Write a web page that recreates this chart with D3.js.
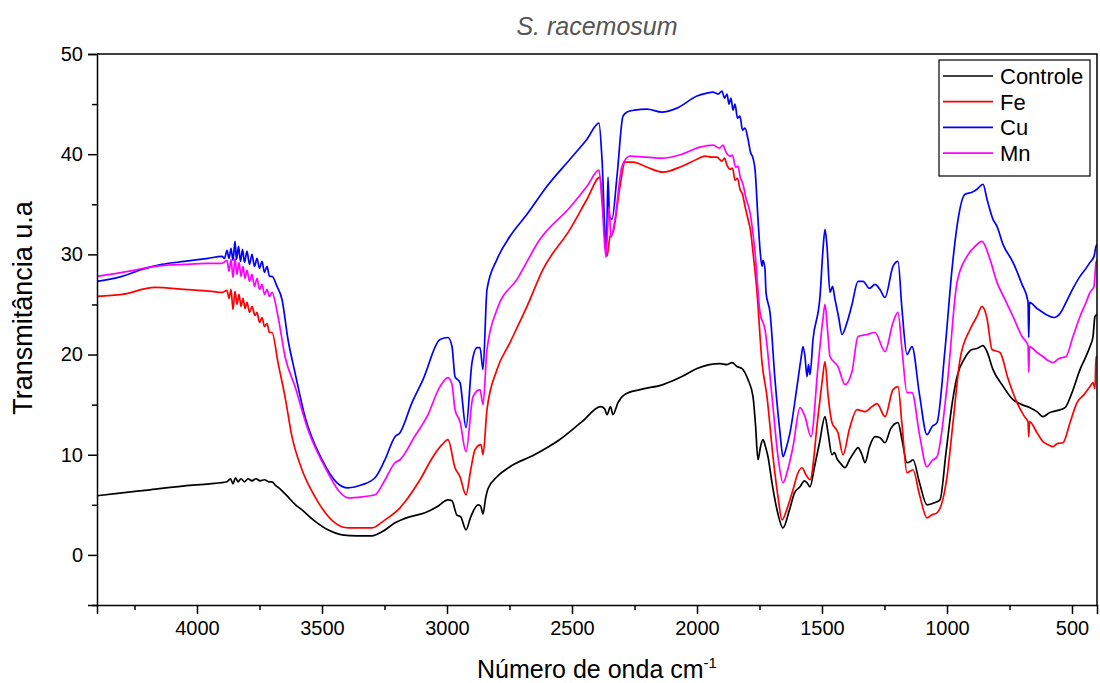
<!DOCTYPE html>
<html>
<head>
<meta charset="utf-8">
<script src="https://cdnjs.cloudflare.com/ajax/libs/d3/7.8.5/d3.min.js"></script>
<style>
  body { margin: 0; background: #fff; }
  svg { font-family: "Liberation Sans", Arial, sans-serif; }
</style>
</head>
<body>
<div id="chart"></div>
<script>
// chart data: [wavenumber, transmittance]
const seriesNames = ["Controle", "Fe", "Cu", "Mn"];
const seriesColors = ["#000000", "#ff0000", "#0000ff", "#ff00ff"];

const xTicks = [4000, 3500, 3000, 2500, 2000, 1500, 1000, 500];
const xMinorTicks = [4250, 3750, 3250, 2750, 2250, 1750, 1250, 750];
const yTicks = [0, 10, 20, 30, 40, 50];
const yMinorTicks = [-5, 5, 15, 25, 35, 45];

const controle = [
  [4400, 5.9], [4300, 6.2], [4188, 6.5], [4050, 6.9], [3950, 7.1], [3880, 7.3],
  [3866, 7.6], [3856, 7.1], [3846, 7.7], [3836, 7.3], [3824, 7.6], [3810, 7.3],
  [3796, 7.6], [3780, 7.4], [3764, 7.6], [3748, 7.4], [3730, 7.5], [3712, 7.3],
  [3700, 7.3], [3688, 7.0], [3664, 6.5], [3636, 5.8], [3610, 5.1], [3580, 4.5],
  [3530, 3.4], [3476, 2.5], [3420, 2.0], [3360, 1.9], [3300, 1.9], [3260, 2.3],
  [3208, 3.2], [3150, 3.8], [3088, 4.2], [3040, 4.8], [2996, 5.5], [2980, 5.4],
  [2961, 4.0], [2945, 3.8], [2924, 2.5], [2905, 3.8], [2876, 5.0], [2866, 4.9],
  [2856, 4.1], [2846, 5.6], [2836, 6.6], [2800, 7.8], [2748, 8.8], [2650, 10.0],
  [2550, 11.5], [2460, 13.3], [2385, 14.8], [2370, 14.6], [2360, 14.0],
  [2346, 14.8], [2336, 14.0], [2316, 15.2], [2290, 16.0], [2228, 16.5],
  [2136, 17.0], [2060, 17.8], [2000, 18.6], [1950, 19.0], [1908, 19.1],
  [1880, 19.0], [1860, 19.2], [1840, 18.8], [1820, 18.6], [1796, 17.5],
  [1776, 15.8], [1766, 13.0], [1756, 9.5], [1746, 10.8], [1736, 11.5],
  [1726, 10.8], [1716, 9.8], [1700, 7.2], [1680, 4.5], [1656, 2.7],
  [1630, 4.5], [1610, 6.2], [1588, 6.8], [1570, 7.4], [1560, 7.2], [1548, 6.8],
  [1530, 8.8], [1510, 11.2], [1488, 13.8], [1476, 12.2], [1460, 10.0],
  [1450, 10.2], [1440, 9.6], [1428, 9.2], [1408, 8.7], [1390, 9.5],
  [1370, 10.3], [1356, 10.7], [1340, 10.0], [1328, 9.2], [1310, 10.8],
  [1288, 11.8], [1268, 11.7], [1248, 11.2], [1225, 12.6], [1196, 13.2],
  [1180, 11.5], [1160, 9.2], [1148, 9.3], [1136, 9.5], [1110, 7.2],
  [1080, 5.0], [1050, 5.2], [1028, 5.5], [1004, 10.2], [980, 15.0],
  [960, 17.8], [930, 19.6], [900, 20.5], [880, 20.6], [856, 20.9], [840, 20.3],
  [816, 18.5], [780, 17.0], [736, 15.5], [700, 15.0], [668, 14.7], [640, 14.3],
  [616, 13.8], [590, 14.2], [560, 14.4], [528, 14.7], [500, 16.2], [468, 18.5],
  [448, 19.6], [428, 20.8], [416, 21.8], [408, 23.8], [400, 24.0]
];

const fe = [
  [4400, 25.8], [4300, 26.0], [4168, 26.7], [4050, 26.5], [3940, 26.3], [3900, 26.2],
  [3880, 26.4], [3872, 25.6], [3864, 26.5], [3856, 24.5], [3848, 26.3], [3840, 25.0],
  [3832, 26.0], [3824, 24.8], [3816, 25.6], [3808, 24.6], [3800, 25.2], [3790, 24.2],
  [3780, 24.8], [3768, 23.9], [3760, 24.2], [3750, 23.2], [3740, 23.7], [3730, 22.8],
  [3720, 23.1], [3710, 22.2], [3700, 22.2], [3676, 19.2], [3648, 15.8],
  [3620, 11.8], [3580, 8.5], [3528, 5.8], [3448, 3.2], [3396, 2.7], [3300, 2.7],
  [3248, 3.5], [3188, 4.7], [3168, 5.3], [3108, 7.5], [3056, 9.8], [3020, 11.0],
  [2996, 11.5], [2968, 8.7], [2948, 7.8], [2924, 6.0], [2905, 8.5], [2888, 10.5],
  [2864, 11.0], [2856, 10.0], [2840, 14.5], [2800, 18.5], [2748, 21.2],
  [2680, 24.8], [2616, 28.5], [2508, 32.5], [2440, 35.5], [2388, 37.7],
  [2376, 34.5], [2360, 29.8], [2348, 31.8], [2336, 32.2], [2308, 36.8],
  [2288, 39.2], [2256, 39.2], [2200, 38.7], [2136, 38.2], [2060, 38.8],
  [2000, 39.5], [1968, 39.8], [1940, 39.7], [1920, 39.7], [1900, 39.3],
  [1890, 39.6], [1880, 38.9], [1868, 38.5], [1858, 38.6], [1848, 37.4],
  [1838, 37.6], [1828, 36.5], [1818, 36.0], [1808, 34.8], [1796, 33.5],
  [1786, 32.4], [1776, 30.2], [1760, 26.2], [1740, 19.2], [1720, 15.8],
  [1696, 9.8], [1676, 5.8], [1660, 3.5], [1640, 4.6], [1616, 6.5], [1596, 8.2],
  [1580, 8.7], [1564, 8.0], [1548, 7.5], [1516, 13.8], [1498, 17.6],
  [1488, 19.3], [1476, 16.0], [1460, 13.2], [1436, 12.2], [1416, 10.0],
  [1390, 12.6], [1360, 14.5], [1328, 14.3], [1300, 14.8], [1280, 15.1],
  [1248, 13.8], [1216, 16.5], [1196, 16.8], [1180, 13.0], [1160, 8.2],
  [1136, 8.5], [1110, 6.0], [1080, 3.7], [1060, 4.0], [1040, 4.2], [1000, 7.8],
  [976, 13.2], [948, 19.5], [908, 22.5], [880, 23.8], [860, 24.8], [840, 23.6],
  [820, 20.5], [788, 20.2], [756, 17.6], [720, 15.2], [690, 13.8], [676, 13.3],
  [673, 11.8], [670, 13.3], [640, 12.2], [616, 11.3], [596, 11.0], [576, 10.8],
  [560, 11.1], [536, 11.2], [508, 13.2], [480, 15.2], [452, 16.0], [428, 16.8],
  [416, 17.2], [408, 16.6], [404, 19.8], [400, 19.8]
];

const cu = [
  [4400, 27.3], [4300, 27.8], [4220, 28.5], [4140, 29.0], [4050, 29.3], [3956, 29.6],
  [3900, 29.8], [3890, 29.6], [3880, 30.4], [3872, 29.6], [3864, 30.6], [3856, 29.4],
  [3848, 31.3], [3842, 29.5], [3834, 30.8], [3826, 29.3], [3818, 30.5], [3810, 29.2],
  [3800, 30.3], [3790, 29.0], [3780, 30.0], [3770, 28.8], [3760, 29.6], [3750, 28.6],
  [3740, 29.3], [3730, 28.2], [3720, 28.8], [3710, 27.8], [3700, 27.8],
  [3680, 26.8], [3660, 25.5], [3636, 21.5], [3608, 18.2], [3568, 13.8],
  [3500, 9.5], [3440, 7.2], [3396, 6.7], [3340, 7.0], [3288, 7.7], [3250, 9.4],
  [3208, 11.8], [3188, 12.2], [3140, 15.2], [3096, 17.5], [3028, 21.5],
  [2996, 21.7], [2980, 20.8], [2968, 17.8], [2948, 17.2], [2924, 12.7],
  [2900, 19.2], [2880, 20.7], [2868, 20.7], [2856, 18.5], [2840, 26.5],
  [2800, 29.5], [2748, 31.8], [2680, 34.0], [2600, 36.8], [2508, 39.5],
  [2440, 41.5], [2392, 43.1], [2380, 39.5], [2364, 30.8], [2360, 33.0],
  [2356, 37.7], [2350, 33.8], [2340, 33.5], [2320, 37.8], [2296, 43.8],
  [2280, 44.2], [2250, 44.4], [2200, 44.5], [2140, 44.2], [2080, 44.6],
  [2000, 45.8], [1960, 46.1], [1936, 46.2], [1916, 46.0], [1900, 46.3],
  [1890, 45.6], [1880, 46.0], [1872, 45.0], [1864, 45.6], [1856, 44.4],
  [1848, 45.0], [1838, 43.6], [1828, 43.8], [1818, 42.4], [1808, 42.6],
  [1796, 41.5], [1786, 40.2], [1776, 39.6], [1768, 38.5], [1756, 33.5],
  [1748, 30.5], [1740, 28.8], [1736, 29.4], [1728, 28.5], [1724, 26.2],
  [1708, 24.2], [1688, 17.5], [1668, 12.2], [1656, 9.8], [1644, 10.6],
  [1628, 12.2], [1600, 16.8], [1584, 19.6], [1576, 20.8], [1568, 19.8],
  [1560, 17.8], [1554, 19.0], [1548, 18.0], [1536, 21.5], [1508, 25.8],
  [1496, 30.5], [1488, 32.5], [1480, 30.8], [1468, 26.2], [1458, 26.8],
  [1448, 25.5], [1434, 23.8], [1420, 22.0], [1400, 23.2], [1380, 25.0],
  [1356, 27.3], [1336, 27.3], [1310, 26.6], [1288, 27.0], [1268, 26.5],
  [1248, 25.7], [1216, 28.8], [1196, 29.3], [1180, 24.5], [1160, 20.0],
  [1140, 20.8], [1110, 16.0], [1080, 12.0], [1060, 12.8], [1040, 13.2],
  [1008, 20.5], [980, 28.5], [960, 32.8], [928, 36.0], [900, 36.2], [880, 36.5],
  [856, 37.0], [840, 35.5], [816, 33.5], [800, 32.8], [776, 31.0], [736, 29.2],
  [700, 27.0], [676, 25.3], [673, 21.7], [670, 25.2], [640, 24.6], [616, 24.2],
  [596, 23.9], [572, 23.7], [548, 24.1], [524, 25.2], [496, 26.6], [468, 27.8],
  [444, 28.6], [428, 29.2], [412, 29.8], [404, 30.8], [400, 31.0]
];

const mn = [
  [4400, 27.8], [4276, 28.3], [4168, 28.8], [4050, 29.0], [3956, 29.1], [3900, 29.1],
  [3880, 29.4], [3872, 28.3], [3864, 29.5], [3856, 27.7], [3848, 29.6], [3840, 28.0],
  [3832, 29.2], [3824, 27.8], [3816, 28.8], [3808, 27.6], [3800, 28.4], [3790, 27.3],
  [3780, 28.0], [3770, 26.8], [3760, 27.6], [3750, 26.5], [3740, 27.0], [3730, 26.0],
  [3720, 26.5], [3710, 25.8], [3700, 26.2], [3676, 23.8], [3648, 19.8],
  [3608, 16.8], [3556, 12.5], [3476, 8.2], [3430, 6.3], [3396, 5.7], [3340, 5.8],
  [3288, 6.0], [3250, 7.4], [3208, 9.2], [3188, 9.5], [3130, 11.8], [3080, 13.8],
  [3028, 16.8], [2996, 17.7], [2980, 17.0], [2968, 14.5], [2948, 13.3],
  [2924, 10.3], [2896, 15.8], [2868, 16.5], [2856, 15.0], [2840, 20.5],
  [2800, 24.5], [2720, 27.5], [2628, 31.5], [2508, 34.7], [2440, 36.8],
  [2392, 38.4], [2380, 35.2], [2364, 29.7], [2352, 34.8], [2344, 31.7],
  [2328, 33.5], [2300, 38.8], [2268, 39.8], [2200, 39.7], [2140, 39.6],
  [2060, 40.0], [1988, 40.7], [1936, 40.9], [1910, 40.6], [1896, 40.9],
  [1884, 40.2], [1868, 39.8], [1858, 39.9], [1846, 38.7], [1836, 38.8],
  [1828, 37.8], [1816, 37.0], [1804, 35.6], [1788, 34.2], [1768, 30.2],
  [1748, 24.2], [1728, 22.5], [1700, 15.8], [1676, 9.8], [1656, 7.2],
  [1636, 8.6], [1616, 10.8], [1588, 14.7], [1568, 13.8], [1544, 11.8],
  [1516, 18.8], [1496, 23.6], [1488, 25.0], [1478, 22.5], [1468, 19.8],
  [1436, 18.8], [1408, 17.0], [1380, 18.3], [1356, 21.8], [1320, 22.0],
  [1288, 22.2], [1248, 20.3], [1216, 23.2], [1196, 24.2], [1180, 20.5],
  [1160, 16.2], [1140, 16.2], [1110, 12.0], [1080, 8.8], [1060, 9.4],
  [1040, 9.8], [1000, 16.8], [960, 27.2], [920, 29.8], [888, 30.8], [860, 31.3],
  [828, 29.5], [800, 27.2], [770, 25.6], [736, 23.8], [700, 21.8], [676, 20.9],
  [673, 18.2], [670, 20.8], [640, 20.2], [616, 19.8], [596, 19.4], [576, 19.2],
  [552, 19.6], [524, 19.8], [496, 21.8], [468, 23.8], [444, 25.2], [428, 26.2],
  [412, 26.8], [404, 29.2], [400, 29.4]
];

const series = [controle, fe, cu, mn];

// layout
const width = 1100,
  height = 683,
  margin = { top: 54, right: 3, bottom: 78, left: 97 };

const svg = d3
  .select("#chart")
  .append("svg")
  .attr("width", width)
  .attr("height", height);

const x = d3
  .scaleLinear()
  .domain([4400, 400])
  .range([margin.left, width - margin.right]);

const y = d3
  .scaleLinear()
  .domain([-5, 50])
  .range([height - margin.bottom, margin.top]);

const line = d3
  .line()
  .x(d => x(d[0]))
  .y(d => y(d[1]))
  .curve(d3.curveMonotoneX);

// clip so nothing spills over the frame
svg
  .append("clipPath")
  .attr("id", "plot-clip")
  .append("rect")
  .attr("x", x.range()[0])
  .attr("y", y.range()[1])
  .attr("width", x.range()[1] - x.range()[0])
  .attr("height", y.range()[0] - y.range()[1]);

svg
  .append("g")
  .attr("clip-path", "url(#plot-clip)")
  .selectAll("path")
  .data(series)
  .join("path")
  .attr("d", line)
  .attr("fill", "none")
  .attr("stroke", (d, i) => seriesColors[i])
  .attr("stroke-width", 1.7)
  .attr("stroke-linejoin", "round");

// axes
svg
  .append("g")
  .attr("transform", `translate(0,${y.range()[0]})`)
  .call(
    d3.axisBottom(x)
      .tickValues(xTicks)
      .tickFormat(d3.format("d"))
      .tickSize(9)
      .tickPadding(7)
  );

svg
  .append("g")
  .attr("transform", `translate(0,${y.range()[0]})`)
  .call(d3.axisBottom(x).tickValues(xMinorTicks).tickSize(5).tickFormat(""))
  .call(g => g.select(".domain").remove());

svg
  .append("g")
  .attr("transform", `translate(${x.range()[0]},0)`)
  .call(d3.axisLeft(y).tickValues(yTicks).tickSize(9).tickPadding(5));

svg
  .append("g")
  .attr("transform", `translate(${x.range()[0]},0)`)
  .call(d3.axisLeft(y).tickValues(yMinorTicks).tickSize(5).tickFormat(""))
  .call(g => g.select(".domain").remove());

svg.selectAll(".tick line").attr("stroke", "#000").attr("stroke-width", 1.5);
svg.selectAll(".domain").attr("stroke", "#000").attr("stroke-width", 1.5);
svg
  .selectAll(".tick text")
  .attr("font-family", "'Liberation Sans', Arial, sans-serif")
  .attr("font-size", 20)
  .attr("fill", "#000");

// top and right frame lines
svg
  .append("path")
  .attr(
    "d",
    `M${x.range()[0]},${y.range()[1]}H${x.range()[1]}V${y.range()[0]}`
  )
  .attr("fill", "none")
  .attr("stroke", "#000")
  .attr("stroke-width", 1.5);

// title and axis labels
svg
  .append("text")
  .attr("x", 597)
  .attr("y", 35)
  .attr("text-anchor", "middle")
  .attr("font-size", 25)
  .attr("font-style", "italic")
  .attr("fill", "#555")
  .text("S. racemosum");

const xLabel = svg
  .append("text")
  .attr("x", 597)
  .attr("y", 678)
  .attr("text-anchor", "middle")
  .attr("font-size", 25)
  .attr("fill", "#000");
xLabel.append("tspan").text("Número de onda cm");
xLabel
  .append("tspan")
  .attr("dy", -10)
  .attr("font-size", 15)
  .text("-1");

svg
  .append("text")
  .attr("transform", "translate(32,308) rotate(-90)")
  .attr("text-anchor", "middle")
  .attr("font-size", 27)
  .attr("fill", "#000")
  .text("Transmitância u.a");

// legend
const legend = svg.append("g").attr("transform", "translate(939,60)");

legend
  .append("rect")
  .attr("width", 151)
  .attr("height", 116)
  .attr("fill", "#fff")
  .attr("stroke", "#000")
  .attr("stroke-width", 1.2);

const entry = legend
  .selectAll(".entry")
  .data(seriesNames)
  .join("g")
  .attr("class", "entry")
  .attr("transform", (d, i) => `translate(0,${16 + i * 25.7})`);

entry
  .append("line")
  .attr("x1", 4)
  .attr("x2", 54)
  .attr("stroke", (d, i) => seriesColors[i])
  .attr("stroke-width", 1.7);

entry
  .append("text")
  .attr("x", 61)
  .attr("dy", "0.36em")
  .attr("font-size", 22)
  .attr("fill", "#000")
  .text(d => d);
</script>
</body>
</html>
